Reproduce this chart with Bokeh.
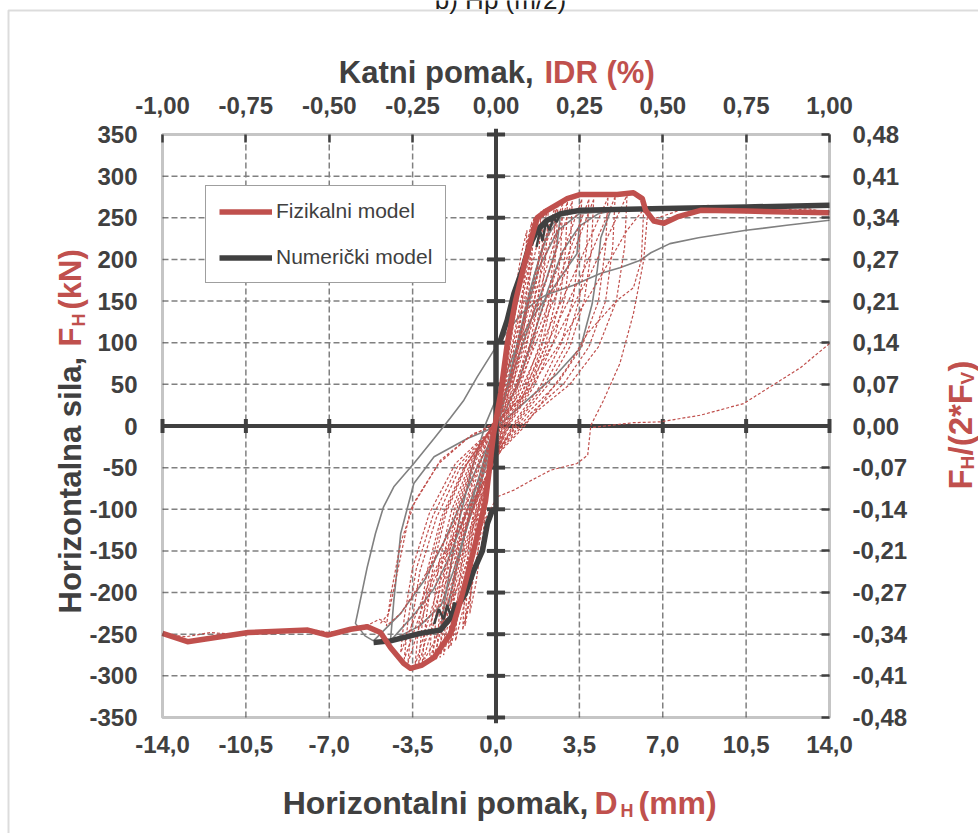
import math
from bokeh.plotting import figure
from bokeh.models import (Range1d, LinearAxis, FixedTicker, Label, Legend, LegendItem,
                          BoxAnnotation)
from bokeh.embed import file_html
from bokeh.resources import INLINE

RED = "#C0504D"
DARK = "#404040"
GRAY = "#808080"
FONT = "Liberation Sans"

# ---------------- tick labels ----------------
x_ticks = [-14.0, -10.5, -7.0, -3.5, 0.0, 3.5, 7.0, 10.5, 14.0]
x_tick_labels = ["-14,0", "-10,5", "-7,0", "-3,5", "0,0", "3,5", "7,0", "10,5", "14,0"]
idr_tick_labels = ["-1,00", "-0,75", "-0,50", "-0,25", "0,00", "0,25", "0,50", "0,75", "1,00"]
y_ticks = [-350, -300, -250, -200, -150, -100, -50, 0, 50, 100, 150, 200, 250, 300, 350]
y_tick_labels = ["-350", "-300", "-250", "-200", "-150", "-100", "-50", "0",
                 "50", "100", "150", "200", "250", "300", "350"]
ratio_tick_labels = ["-0,48", "-0,41", "-0,34", "-0,27", "-0,21", "-0,14", "-0,07", "0,00",
                     "0,07", "0,14", "0,21", "0,27", "0,34", "0,41", "0,48"]

# ---------------- physical model (thick red curve) ----------------
fiz_x = [-14.0, -12.95, -10.4, -7.9, -7.07, -6.1, -5.4, -4.85, -4.43, -3.88, -3.59, -3.1, -2.6,
         -1.9, -1.49, -0.94, -0.44, -0.1, 0.2, 0.48, 0.82, 1.24, 1.73, 2.15, 2.99, 3.55, 4.3,
         5.09, 5.77, 6.14, 6.28, 6.63, 7.05, 7.61, 8.59, 10.5, 12.2, 14.0]
fiz_y = [-249, -259, -248, -245, -251, -244, -241, -248, -266, -285, -291, -287, -278,
         -249, -210, -150, -90, -9, 40, 100, 150, 200, 250, 259, 273, 278, 278,
         278, 280, 273, 259, 246, 243.5, 251, 259, 258, 257, 256]

# ---------------- numerical model (thick dark curve) ----------------
num_x = [-5.14, -4.43, -3.17, -2.33, -1.9, -1.28, -0.94, -0.57, -0.36, -0.15, 0.0, 0.0, 0.19,
         0.47, 0.75, 1.1, 1.38, 1.73, 2.15, 2.71, 3.55, 7.04, 10.5, 14.0]
num_y = [-260, -258, -249, -245, -230, -201, -174, -150, -117, -101, -100, 100, 103,
         127, 159, 187, 215, 235, 247, 255, 259, 261, 263, 265]

num_jag1_x = [-2.6, -2.4, -2.2, -2.05, -1.9, -1.75, -1.6, -1.5]
num_jag1_y = [-238, -220, -232, -215, -228, -212, -222, -205]
num_jag2_x = [1.7, 1.85, 1.95, 2.1, 2.25, 2.4, 2.55, 2.7]
num_jag2_y = [215, 235, 222, 245, 235, 250, 245, 255]

# ---------------- physical model cycles (thin red dashed) ----------------
r1_x = [1.3, 1.22, 1.05, 0.75, 0.4, 0.1, -0.25, -0.55, -0.85, -1.1, -1.02, -0.85, -0.55, -0.25, 0.05, 0.4, 0.75, 1.05, 1.3]
r1_y = [235, 190, 130, 70, 25, -5, -60, -130, -190, -225, -180, -120, -60, -20, 15, 80, 150, 205, 235]
r2_x = [1.6, 1.5, 1.3, 0.95, 0.55, 0.15, -0.3, -0.7, -1.1, -1.4, -1.3, -1.1, -0.75, -0.35, 0.05, 0.45, 0.9, 1.3, 1.6]
r2_y = [250, 200, 140, 80, 30, -5, -65, -140, -205, -245, -195, -130, -70, -25, 10, 75, 150, 215, 250]
r3_x = [1.9, 1.8, 1.6, 1.2, 0.7, 0.25, -0.3, -0.8, -1.3, -1.7, -1.6, -1.35, -0.95, -0.45, 0.0, 0.5, 1.0, 1.5, 1.9]
r3_y = [258, 205, 145, 85, 35, 0, -60, -135, -210, -258, -205, -140, -75, -25, 10, 70, 145, 220, 258]
r4_x = [2.2, 2.1, 1.9, 1.5, 0.9, 0.35, -0.25, -0.85, -1.5, -2.0, -1.9, -1.65, -1.2, -0.6, 0.0, 0.55, 1.1, 1.7, 2.2]
r4_y = [262, 210, 150, 90, 38, 2, -55, -130, -210, -268, -215, -150, -85, -30, 8, 65, 140, 215, 262]
r5_x = [2.5, 2.42, 2.2, 1.8, 1.1, 0.45, -0.2, -0.9, -1.6, -2.2, -2.1, -1.85, -1.4, -0.75, -0.05, 0.6, 1.25, 1.9, 2.5]
r5_y = [265, 205, 150, 95, 40, 5, -50, -125, -205, -275, -220, -155, -90, -35, 5, 60, 135, 210, 265]
r6_x = [2.8, 2.72, 2.5, 2.05, 1.3, 0.55, -0.15, -0.95, -1.8, -2.5, -2.38, -2.1, -1.6, -0.9, -0.1, 0.65, 1.4, 2.1, 2.8]
r6_y = [268, 210, 150, 95, 42, 6, -45, -120, -200, -280, -225, -160, -95, -40, 3, 55, 130, 205, 268]
r7_x = [3.2, 3.12, 2.9, 2.4, 1.6, 0.7, -0.1, -1.0, -2.0, -2.8, -2.68, -2.4, -1.85, -1.05, -0.15, 0.7, 1.55, 2.4, 3.2]
r7_y = [270, 215, 155, 100, 48, 8, -40, -115, -200, -284, -230, -165, -100, -42, 0, 50, 125, 200, 270]
r8_x = [3.6, 3.5, 3.25, 2.75, 1.9, 0.9, 0.0, -1.1, -2.2, -3.1, -2.95, -2.65, -2.1, -1.2, -0.2, 0.75, 1.7, 2.65, 3.6]
r8_y = [272, 215, 155, 100, 50, 10, -35, -110, -195, -286, -235, -170, -105, -45, -2, 45, 120, 195, 272]
r9_x = [4.1, 4.0, 3.7, 3.1, 2.2, 1.1, 0.1, -1.1, -2.4, -3.4, -3.25, -2.9, -2.3, -1.35, -0.25, 0.8, 1.9, 3.0, 4.1]
r9_y = [272, 210, 150, 95, 50, 12, -30, -105, -190, -288, -240, -175, -110, -50, -5, 40, 115, 190, 272]
r10_x = [4.7, 4.6, 4.3, 3.6, 2.6, 1.3, 0.2, -1.1, -2.6, -3.7, -3.55, -3.2, -2.5, -1.5, -0.3, 0.9, 2.1, 3.4, 4.7]
r10_y = [274, 215, 150, 95, 52, 15, -25, -100, -185, -285, -240, -175, -110, -50, -8, 35, 110, 190, 274]
r11_x = [5.5, 5.4, 5.05, 4.3, 3.1, 1.6, 0.3, -1.1, -2.7, -4.0, -3.85, -3.5, -2.8, -1.7, -0.4, 1.0, 2.5, 4.0, 5.5]
r11_y = [277, 215, 150, 95, 50, 15, -25, -95, -180, -272, -230, -170, -105, -45, -10, 30, 105, 185, 277]
r12_x = [6.2, 6.1, 5.77, 5.09, 3.83, 2.99, 2.0, 1.15, 0.2, -0.8, -2.0, -3.2, -4.0, -4.6, -4.4, -4.0, -3.4, -2.4, -1.2, 0.0, 1.3, 2.7, 4.2, 5.5, 6.2]
r12_y = [260, 199, 166, 151, 111, 70, 31, -2, -30, -70, -130, -190, -225, -240, -200, -140, -90, -45, -15, 5, 40, 100, 170, 235, 260]
r13_x = [14.0, 12.78, 10.4, 8.59, 6.9, 5.77, 3.97, 3.85, 3.4, 2.3, 1.5, 0.75, 0.05, -0.6, -1.3, -2.0, -2.6, -3.0]
r13_y = [99, 70, 27, 13, 5, 4, -2, -35, -45, -53, -65, -77, -85, -120, -170, -220, -260, -280]
r14_x = [6.35, 6.2, 5.77, 5.2, 4.5, 3.97]
r14_y = [251, 199, 135, 75, 30, 0]
r15_x = [6.5, 7.0, 7.6, 8.0, 8.4, 8.9, 9.3, 9.8, 10.3, 10.8, 11.4, 11.9, 12.5, 13.1, 13.6, 14.0]
r15_y = [248, 252, 258, 263, 258, 265, 261, 264, 259, 263, 260, 263, 259, 261, 258, 257]
r16_x = [-14.0, -13.0, -12.0, -11.0, -10.0, -9.0, -8.0, -7.0, -6.0, -5.3, -4.9, -4.6]
r16_y = [-250, -253, -248, -250, -246, -247, -243, -248, -242, -238, -232, -236]
r17_x = [-4.85, -4.5, -4.1, -3.6, -2.33, -0.94, 0.0]
r17_y = [-237, -225, -170, -101, -41, -9, 0]
r18_x = [1.5, 1.42, 1.2, 0.85, 0.45, 0.05, -0.35, -0.7, -1.05, -1.3, -1.2, -0.98, -0.65, -0.3, 0.1, 0.5, 0.9, 1.25, 1.5]
r18_y = [245, 195, 135, 78, 30, -8, -70, -140, -200, -240, -190, -125, -65, -22, 12, 78, 155, 212, 245]
r19_x = [2.0, 1.92, 1.72, 1.35, 0.8, 0.3, -0.25, -0.75, -1.4, -1.9, -1.8, -1.55, -1.1, -0.5, 0.05, 0.5, 1.05, 1.55, 2.0]
r19_y = [260, 200, 140, 88, 36, 1, -55, -125, -205, -265, -210, -145, -80, -28, 9, 68, 142, 218, 260]
r20_x = [2.6, 2.5, 2.3, 1.9, 1.2, 0.5, -0.2, -0.95, -1.7, -2.35, -2.25, -2.0, -1.5, -0.85, -0.1, 0.6, 1.3, 2.0, 2.6]
r20_y = [266, 205, 148, 93, 40, 5, -48, -122, -202, -278, -222, -158, -92, -37, 4, 58, 132, 208, 266]
r21_x = [3.0, 2.92, 2.7, 2.2, 1.45, 0.62, -0.12, -0.98, -1.9, -2.65, -2.52, -2.25, -1.72, -0.98, -0.12, 0.68, 1.48, 2.25, 3.0]
r21_y = [269, 212, 152, 98, 45, 7, -42, -118, -200, -282, -228, -162, -98, -41, 2, 52, 128, 202, 269]
r22_x = [3.9, 3.8, 3.5, 2.95, 2.05, 1.0, 0.05, -1.1, -2.3, -3.25, -3.1, -2.78, -2.2, -1.28, -0.22, 0.78, 1.8, 2.85, 3.9]
r22_y = [272, 212, 152, 98, 50, 11, -32, -108, -192, -287, -238, -172, -108, -48, -4, 42, 118, 192, 272]
r23_x = [5.0, 4.9, 4.6, 3.9, 2.85, 1.45, 0.25, -1.1, -2.65, -3.85, -3.7, -3.35, -2.65, -1.6, -0.35, 0.95, 2.3, 3.7, 5.0]
r23_y = [275, 215, 150, 95, 51, 15, -25, -98, -182, -280, -235, -172, -108, -48, -9, 32, 108, 188, 275]

# ---------------- numerical model cycles (thin gray) ----------------
gA_x = [14.0, 12.2, 10.5, 8.5, 7.3, 6.5, 6.06, 5.2, 4.38, 3.25, 2.15, 1.73, 1.03, 0.0, -0.79, -1.35,
        -1.91, -2.6, -3.45, -4.29, -4.72, -5.06, -5.41, -5.76, -5.9, -5.5, -5.14]
gA_y = [247, 241, 235, 226, 219, 208, 199, 190, 183, 169, 158, 151, 134, 95, 59, 31,
        10, -15, -45, -73, -97, -129, -170, -218, -237, -252, -258]
gB_x = [4.8, 4.4, 4.25, 4.04, 3.55, 2.57, 1.31, 0.2, -0.37, -1.2, -2.6, -3.45, -4.0, -4.29, -4.43]
gB_y = [258, 226, 187, 147, 94, 63, 31, 3, -5, -15, -37, -69, -129, -210, -258]
gC_x = [3.55, 3.4, 2.43, 1.45, 0.75, 0.2, -0.4, -1.0, -1.6, -2.1, -2.33]
gC_y = [258, 207, 167, 127, 87, 46, 5, -50, -120, -200, -245]
gD_x = [-4.43, -3.4, -2.6, -2.0, -1.4, -0.8, -0.1, 0.5, 1.1, 1.6, 2.1, 2.7, 3.55]
gD_y = [-258, -225, -195, -160, -115, -70, -10, 50, 120, 180, 225, 252, 258]
gE_x = [-4.43, -3.2, -2.3, -1.8, -1.2, -0.6, 0.0, 0.6, 1.2, 1.8, 2.6, 3.5, 4.8]
gE_y = [-258, -240, -215, -175, -120, -65, -10, 60, 130, 190, 235, 255, 258]
gF_x = [-5.14, -4.0, -3.0, -2.2, -1.5, -0.8, 0.1, 0.9, 1.6, 2.2, 2.8, 3.5, 4.3, 4.8]
gF_y = [-258, -225, -185, -140, -95, -50, 0, 50, 110, 165, 210, 240, 255, 258]
gG_x = [2.7, 2.55, 2.1, 1.5, 0.9, 0.3, -0.3, -0.9, -1.5, -2.0, -2.3]
gG_y = [252, 215, 175, 130, 80, 30, -20, -80, -150, -215, -245]
gH_x = [-2.3, -1.9, -1.4, -0.8, -0.2, 0.4, 0.9, 1.4, 1.9, 2.3, 2.7]
gH_y = [-245, -200, -140, -80, -20, 40, 100, 160, 210, 240, 252]

red_xs = [r1_x, r2_x, r3_x, r4_x, r5_x, r6_x, r7_x, r8_x, r9_x, r10_x, r11_x, r12_x,
          r13_x, r14_x, r15_x, r16_x, r17_x, r18_x, r19_x, r20_x, r21_x, r22_x, r23_x]
red_ys = [r1_y, r2_y, r3_y, r4_y, r5_y, r6_y, r7_y, r8_y, r9_y, r10_y, r11_y, r12_y,
          r13_y, r14_y, r15_y, r16_y, r17_y, r18_y, r19_y, r20_y, r21_y, r22_y, r23_y]
gray_xs = [gA_x, gB_x, gC_x, gD_x, gE_x, gF_x, gG_x, gH_x]
gray_ys = [gA_y, gB_y, gC_y, gD_y, gE_y, gF_y, gG_y, gH_y]

# ---------------- layout (pixels) ----------------
W, H = 978, 833
FL, FR, FT, FB = 162, 829, 134, 717          # plot-area edges on the canvas
xmin, xmax = x_ticks[0], x_ticks[-1]
ymin, ymax = y_ticks[0], y_ticks[-1]
sx = (xmax - xmin) / (FR - FL)
sy = (ymax - ymin) / (FB - FT)
x_range = Range1d(xmin - FL * sx, xmax + (W - FR) * sx)
y_range = Range1d(ymin - (H - FB) * sy, ymax + FT * sy)

p = figure(width=W, height=H, x_range=x_range, y_range=y_range,
           output_backend="svg", toolbar_location=None,
           x_axis_location=None, y_axis_location=None,
           min_border_left=0, min_border_right=0, min_border_top=0, min_border_bottom=0)
p.background_fill_color = "white"
p.border_fill_color = "white"
p.outline_line_color = None
p.grid.visible = False

def make_axis(ticker, labels, standoff, loc, tick_in=0):
    ax = LinearAxis(ticker=FixedTicker(ticks=ticker), fixed_location=loc,
                    major_label_overrides=dict(zip(ticker, labels)))
    ax.axis_line_color = None
    ax.major_tick_in = tick_in
    ax.major_tick_out = 0
    ax.major_tick_line_color = DARK
    ax.major_tick_line_width = 2.5
    ax.minor_tick_line_color = None
    ax.major_label_standoff = standoff
    ax.major_label_text_font = FONT
    ax.major_label_text_font_style = "bold"
    ax.major_label_text_font_size = "24px"
    ax.major_label_text_color = DARK
    return ax

p.add_layout(make_axis(x_ticks, x_tick_labels, 18, ymin), "below")
p.add_layout(make_axis(x_ticks, idr_tick_labels, 21, ymax, tick_in=8), "above")
p.add_layout(make_axis(y_ticks, y_tick_labels, 25, xmin), "left")
p.add_layout(make_axis(y_ticks, ratio_tick_labels, 23, xmax, tick_in=8), "right")

# dashed grid
gx = x_ticks[1:-1]
gy = y_ticks[1:-1]
p.segment(x0=gx, x1=gx, y0=[ymin] * len(gx), y1=[ymax] * len(gx),
          line_color=GRAY, line_width=1.5, line_dash="6 3")
p.segment(x0=[xmin] * len(gy), x1=[xmax] * len(gy), y0=gy, y1=gy,
          line_color=GRAY, line_width=1.5, line_dash="6 3")

# zero axis lines with crossing ticks
p.segment(x0=[xmin], x1=[xmax], y0=[0], y1=[0], line_color=DARK, line_width=4)
p.segment(x0=[0], x1=[0], y0=[ymin - 7], y1=[ymax + 7], line_color=DARK, line_width=4)
p.segment(x0=[-0.38] * len(y_ticks), x1=[0.38] * len(y_ticks), y0=y_ticks, y1=y_ticks,
          line_color=DARK, line_width=4)
p.segment(x0=x_ticks, x1=x_ticks, y0=[-8.4] * len(x_ticks), y1=[8.4] * len(x_ticks),
          line_color=DARK, line_width=4)

# data
p.multi_line(xs=gray_xs, ys=gray_ys, line_color=GRAY, line_width=1.6)
p.multi_line(xs=red_xs, ys=red_ys, line_color=RED, line_width=1.2, line_dash="3 2")
p.line(num_jag1_x, num_jag1_y, line_color=DARK, line_width=2.5)
p.line(num_jag2_x, num_jag2_y, line_color=DARK, line_width=2.5)
num_r = p.line(num_x, num_y, line_color=DARK, line_width=5.5, line_join="round")
fiz_r = p.line(fiz_x, fiz_y, line_color=RED, line_width=5.5, line_join="round")

# plot-area frame
p.add_layout(BoxAnnotation(left=xmin, right=xmax, bottom=ymin, top=ymax,
                           fill_alpha=0, line_color=DARK, line_width=3))

legend = Legend(items=[LegendItem(label="Fizikalni model", renderers=[fiz_r]),
                       LegendItem(label="Numerički model", renderers=[num_r])],
                location=(205, H - 283), border_line_color=DARK, border_line_width=1.5,
                background_fill_color="white", background_fill_alpha=1.0,
                label_text_font=FONT, label_text_font_size="21px", label_text_color=DARK,
                glyph_width=53, glyph_height=21, label_height=21, label_standoff=4,
                padding=13, spacing=22, margin=0)
p.add_layout(legend)

# outer gray border of the chart
p.add_layout(BoxAnnotation(left=8, right=W + 50, top=H - 10, bottom=-50,
                           left_units="screen", right_units="screen",
                           top_units="screen", bottom_units="screen",
                           fill_alpha=0, line_color="#8C8C8C", line_width=2))

def lab(x, y, text, color, size, angle=0.0, align="left", style="bold"):
    # x, y: canvas pixels from the top-left corner
    p.add_layout(Label(x=x, y=H - y, x_units="screen", y_units="screen", text=text,
                       text_color=color, text_font=FONT, text_font_style=style,
                       text_font_size=size, text_align=align, text_baseline="alphabetic",
                       angle=angle))

# figure caption (cut at the top edge, as in the original)
lab(500, -1, "b) Hp (m/2)", "#202020", "26px", align="center", style="normal")
# top title
lab(533, 72, "Katni pomak,", DARK, "31px", align="right")
lab(544, 72, "IDR (%)", RED, "31px")
# bottom title
lab(588, 802, "Horizontalni pomak,", DARK, "32px", align="right")
lab(594, 802, "D", RED, "32px")
lab(620, 810, "H", RED, "18px")
lab(638, 802, "(mm)", RED, "32px")
# left title (rotated)
A = math.pi / 2
lab(70, 613, "Horizontalna sila,", DARK, "31px", angle=A)
lab(70, 346, "F", RED, "31px", angle=A)
lab(78, 326, "H", RED, "18px", angle=A)
lab(70, 309, "(kN)", RED, "31px", angle=A)
# right title (rotated)
lab(960, 489, "F", RED, "33px", angle=A)
lab(967, 469, "H", RED, "19px", angle=A)
lab(960, 455, "/(2*F", RED, "33px", angle=A)
lab(967, 384, "V", RED, "19px", angle=A)
lab(960, 371, ")", RED, "33px", angle=A)

open("out.html", "w").write(file_html(p, INLINE))
